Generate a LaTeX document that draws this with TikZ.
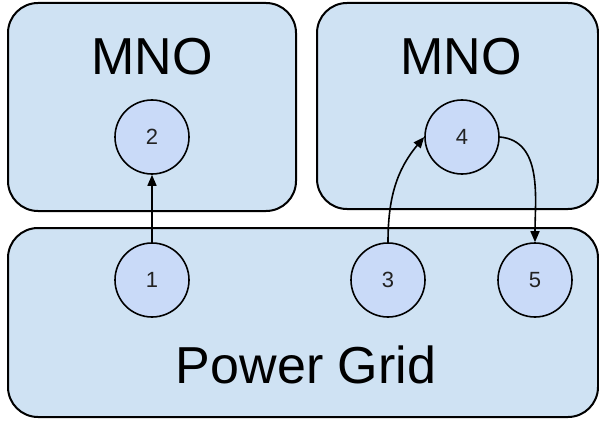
\documentclass[tikz,border=0pt]{standalone}
\usepackage{fontspec}
\setmainfont{Liberation Sans}
\usetikzlibrary{arrows.meta}
\definecolor{boxfill}{HTML}{CFE2F3}
\definecolor{circfill}{HTML}{C9DAF8}
\definecolor{numcol}{HTML}{222222}
\begin{document}
\begin{tikzpicture}[x=1pt,y=-1pt,
  region/.style={draw=black,line width=2pt,fill=boxfill,rounded corners=30pt,inner sep=0pt},
  bigtext/.style={font=\fontsize{52}{60}\selectfont,inner sep=0pt,anchor=base},
  numnode/.style={circle,draw=black,line width=1.6pt,fill=circfill,minimum size=74pt,inner sep=0pt,
    font=\fontsize{22}{26}\selectfont,text=numcol},
  conn/.style={line width=1.6pt,-{Triangle[length=11pt,width=9pt]}}]
\useasboundingbox (0,0) rectangle (599,422);
\node[region,minimum width=288pt,minimum height=208pt] (mnoA) at (152,107) {};
\node[region,minimum width=281pt,minimum height=206pt] (mnoB) at (457.5,106) {};
\node[region,minimum width=590pt,minimum height=189pt] (grid) at (303,322.5) {};
\node[bigtext] (tA) at (152,75) {MNO};
\node[bigtext] (tB) at (461,75) {MNO};
\node[bigtext] (tG) at (306,383) {Power Grid};
\node[numnode] (n1) at (152,280) {1};
\node[numnode] (n2) at (152,137) {2};
\node[numnode] (n3) at (388,280) {3};
\node[numnode] (n4) at (462,137) {4};
\node[numnode] (n5) at (535,280) {5};
\draw[conn] (n1.north) -- (n2.south);
\draw[conn] (n3.north) to[out=90,in=230] (n4.west);
\draw[conn] (n4.east) to[out=-5,in=90] (n5.north);
\end{tikzpicture}
\end{document}
